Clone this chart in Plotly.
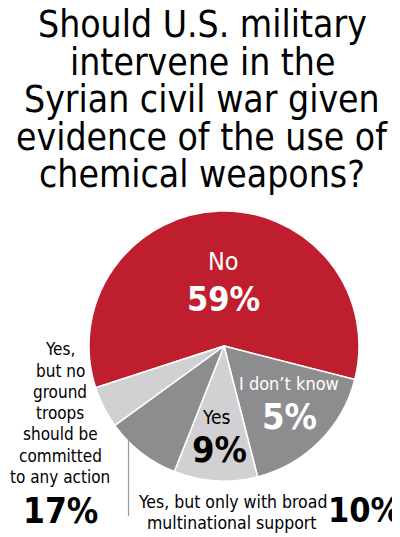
import plotly.graph_objects as go

# Felii in ordinea din grafic (in sensul acelor de ceasornic, de la "No")
slice_names = ["No", "Yes, but no ground troops", "Yes, but only with broad multinational support",
               "Yes", "I don't know"]
slice_values = [59, 17, 10, 9, 5]
slice_colors = ["#be1e2d", "#8d8d8f", "#d1d1d3", "#8d8d8f", "#d1d1d3"]

title_lines = ["Should U.S. military", "intervene in the", "Syrian civil war given",
               "evidence of the use of", "chemical weapons?"]
left_lines = ["Yes,", "but no", "ground", "troops", "should be", "committed", "to any action"]

W, H = 400, 537
NARROW = "DejaVu Sans Condensed, Liberation Sans, sans-serif"


def px_x(x):
    return x / W


def px_y(y):
    return 1 - y / H


fig = go.Figure()
fig.add_trace(go.Pie(
    labels=slice_names,
    values=slice_values,
    sort=False,
    direction="clockwise",
    rotation=-108,
    marker=dict(colors=slice_colors, line=dict(color="white", width=1.5)),
    textinfo="none",
    hoverinfo="label+percent",
    showlegend=False,
    domain=dict(x=[px_x(81), px_x(351)], y=[px_y(473), px_y(203)]),
))

annotations = []


def add_text(text, x, y, size, color="black", bold=False):
    # y = mijlocul literelor mari; cutia textului are si coborasuri, deci urcam putin
    annotations.append(dict(
        text=f"<b>{text}</b>" if bold else text,
        x=px_x(x), y=px_y(y - 0.22 * size), xref="paper", yref="paper",
        xanchor="center", yanchor="middle", showarrow=False,
        font=dict(family=NARROW, size=size, color=color),
    ))


# Titlu, cate o linie
for i, line in enumerate(title_lines):
    add_text(line, 194, 25 + i * 37.5, 37)

# Etichete in felii
add_text("No", 215, 259, 25, "white")
add_text("59%", 215, 298, 34, "white", bold=True)
add_text("I don’t know", 281, 379, 18, "white")
add_text("5%", 281, 416, 36, "white", bold=True)
add_text("Yes", 208, 413, 19)
add_text("9%", 211, 449, 36, bold=True)

# Eticheta din stanga
for i, line in enumerate(left_lines):
    add_text(line, 52, 345 + i * 21.3, 17)
add_text("17%", 52, 511, 35, bold=True)

# Eticheta de jos
add_text("Yes, but only with broad", 224, 498, 17.5)
add_text("multinational support", 224, 519, 17.5)
add_text("10%", 356, 509, 34, bold=True)

fig.update_layout(
    width=W, height=H,
    margin=dict(l=0, r=0, t=0, b=0),
    paper_bgcolor="white",
    annotations=annotations,
    shapes=[dict(type="line", xref="paper", yref="paper",
                 x0=px_x(120.5), x1=px_x(120.5), y0=px_y(432), y1=px_y(508),
                 line=dict(color="#9a9a9a", width=1.2))],
)

fig.write_html("out.html")
